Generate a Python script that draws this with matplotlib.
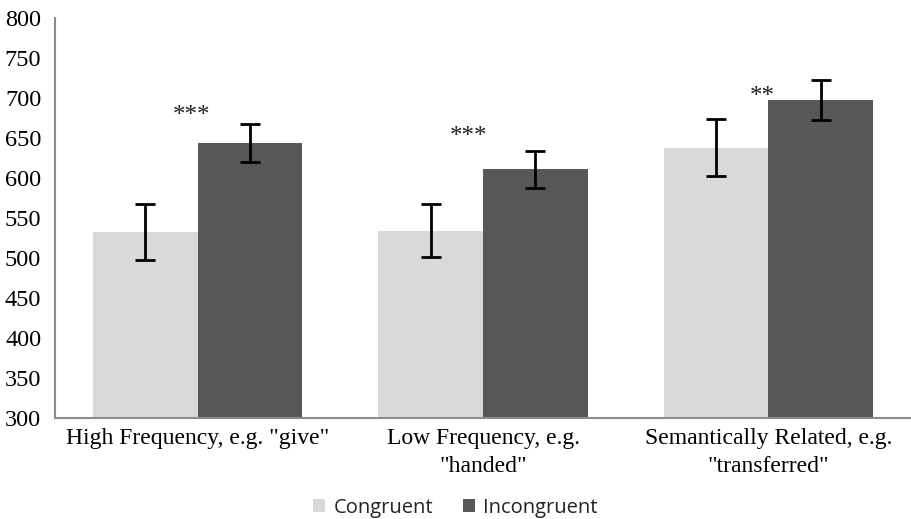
import matplotlib
matplotlib.use("Agg")
import matplotlib.pyplot as plt
import numpy as np

categories = ['High Frequency, e.g. "give"', 'Low Frequency, e.g.\n"handed"',
              'Semantically Related, e.g.\n"transferred"']
congruent = [532, 534, 638]
congruent_err = [35, 33, 36]
incongruent = [644, 611, 697]
incongruent_err = [24, 23, 25]
stars = ['***', '***', '**']
star_y = [677, 651, 701]
yticks = list(range(300, 801, 50))

fig = plt.figure(figsize=(9.11, 5.19), dpi=100)
ax = fig.add_axes([0.0604, 0.1946, 0.9396, 0.7707])

x = np.arange(len(categories))
w = 0.367
ax.bar(x - w/2, congruent, w, color='#d9d9d9', label='Congruent', zorder=2)
ax.bar(x + w/2, incongruent, w, color='#575757', label='Incongruent', zorder=2)
ax.errorbar(x - w/2, congruent, yerr=congruent_err, fmt='none', ecolor='black',
            elinewidth=2, capsize=7, capthick=2, zorder=3)
ax.errorbar(x + w/2, incongruent, yerr=incongruent_err, fmt='none', ecolor='black',
            elinewidth=2, capsize=7, capthick=2, zorder=3)
star_shift = [-0.02, -0.05, -0.02]
for xi, s, sy, dx in zip(x, stars, star_y, star_shift):
    ax.text(xi + dx, sy, s, ha='center', va='center', fontsize=18,
            family='Liberation Serif', color='#222222')

ax.set_xlim(-0.5, 2.5)
ax.set_ylim(300, 800)
ax.set_yticks(yticks)
ax.set_xticks(x)
ax.set_xticklabels(categories, family='Liberation Serif', fontsize=17, linespacing=1.45)
ax.set_yticklabels([str(t) for t in yticks], family='Liberation Serif', fontsize=17.5)
ax.tick_params(axis='y', length=0, pad=10)
ax.tick_params(axis='x', length=0, pad=7)
for side in ['top', 'right']:
    ax.spines[side].set_visible(False)
for side in ['left', 'bottom']:
    ax.spines[side].set_color('#8c8c8c')
    ax.spines[side].set_linewidth(1.5)

leg = fig.legend(loc='center', bbox_to_anchor=(0.5, 0.022), ncol=2, frameon=False,
                 prop={'family': 'Open Sans', 'size': 14.5}, handlelength=0.6,
                 handleheight=0.6, handletextpad=0.4, columnspacing=1.5)
for t in leg.get_texts():
    t.set_color('#222222')

fig.savefig('out.png', dpi=100)
